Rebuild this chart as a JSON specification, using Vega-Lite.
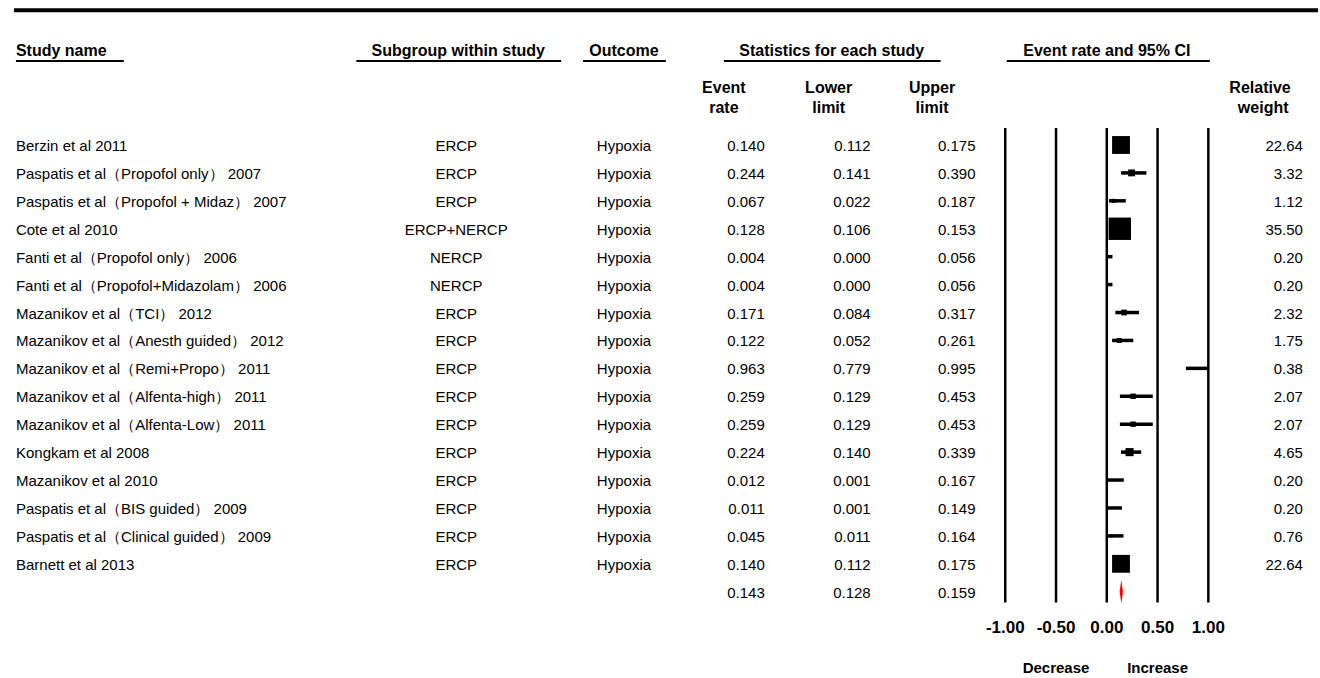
{
  "$schema": "https://vega.github.io/schema/vega-lite/v6.json",
  "width": 1320,
  "height": 678,
  "padding": 0,
  "autosize": {"type": "fit", "contains": "padding"},
  "background": "white",
  "config": {"view": {"stroke": null}, "text": {"font": "Liberation Sans", "color": "black"}},
  "datasets": {
    "studies": [
      {"kind": "study", "study": "Berzin et al 2011", "subgroup": "ERCP", "outcome": "Hypoxia", "rate": 0.140, "lower": 0.112, "upper": 0.175, "weight": 22.64},
      {"kind": "study", "study": "Paspatis et al（Propofol only） 2007", "subgroup": "ERCP", "outcome": "Hypoxia", "rate": 0.244, "lower": 0.141, "upper": 0.390, "weight": 3.32},
      {"kind": "study", "study": "Paspatis et al（Propofol + Midaz） 2007", "subgroup": "ERCP", "outcome": "Hypoxia", "rate": 0.067, "lower": 0.022, "upper": 0.187, "weight": 1.12},
      {"kind": "study", "study": "Cote et al 2010", "subgroup": "ERCP+NERCP", "outcome": "Hypoxia", "rate": 0.128, "lower": 0.106, "upper": 0.153, "weight": 35.50},
      {"kind": "study", "study": "Fanti et al（Propofol only） 2006", "subgroup": "NERCP", "outcome": "Hypoxia", "rate": 0.004, "lower": 0.000, "upper": 0.056, "weight": 0.20},
      {"kind": "study", "study": "Fanti et al（Propofol+Midazolam） 2006", "subgroup": "NERCP", "outcome": "Hypoxia", "rate": 0.004, "lower": 0.000, "upper": 0.056, "weight": 0.20},
      {"kind": "study", "study": "Mazanikov et al（TCI） 2012", "subgroup": "ERCP", "outcome": "Hypoxia", "rate": 0.171, "lower": 0.084, "upper": 0.317, "weight": 2.32},
      {"kind": "study", "study": "Mazanikov et al（Anesth guided） 2012", "subgroup": "ERCP", "outcome": "Hypoxia", "rate": 0.122, "lower": 0.052, "upper": 0.261, "weight": 1.75},
      {"kind": "study", "study": "Mazanikov et al（Remi+Propo） 2011", "subgroup": "ERCP", "outcome": "Hypoxia", "rate": 0.963, "lower": 0.779, "upper": 0.995, "weight": 0.38},
      {"kind": "study", "study": "Mazanikov et al（Alfenta-high） 2011", "subgroup": "ERCP", "outcome": "Hypoxia", "rate": 0.259, "lower": 0.129, "upper": 0.453, "weight": 2.07},
      {"kind": "study", "study": "Mazanikov et al（Alfenta-Low） 2011", "subgroup": "ERCP", "outcome": "Hypoxia", "rate": 0.259, "lower": 0.129, "upper": 0.453, "weight": 2.07},
      {"kind": "study", "study": "Kongkam et al 2008", "subgroup": "ERCP", "outcome": "Hypoxia", "rate": 0.224, "lower": 0.140, "upper": 0.339, "weight": 4.65},
      {"kind": "study", "study": "Mazanikov et al 2010", "subgroup": "ERCP", "outcome": "Hypoxia", "rate": 0.012, "lower": 0.001, "upper": 0.167, "weight": 0.20},
      {"kind": "study", "study": "Paspatis et al（BIS guided） 2009", "subgroup": "ERCP", "outcome": "Hypoxia", "rate": 0.011, "lower": 0.001, "upper": 0.149, "weight": 0.20},
      {"kind": "study", "study": "Paspatis et al（Clinical guided） 2009", "subgroup": "ERCP", "outcome": "Hypoxia", "rate": 0.045, "lower": 0.011, "upper": 0.164, "weight": 0.76},
      {"kind": "study", "study": "Barnett et al 2013", "subgroup": "ERCP", "outcome": "Hypoxia", "rate": 0.140, "lower": 0.112, "upper": 0.175, "weight": 22.64},
      {"kind": "summary", "study": "", "subgroup": "", "outcome": "", "rate": 0.143, "lower": 0.128, "upper": 0.159, "weight": null}
    ],
    "ticks": [
      {"tick": -1, "label": "-1.00"},
      {"tick": -0.5, "label": "-0.50"},
      {"tick": 0, "label": "0.00"},
      {"tick": 0.5, "label": "0.50"},
      {"tick": 1, "label": "1.00"}
    ]
  },
  "layer": [
    {
      "data": {"name": "studies"},
      "transform": [{"window": [{"op": "row_number", "as": "row"}]}],
      "layer": [
        {
          "mark": {"type": "text", "align": "left", "baseline": "middle", "fontSize": 15, "dy": 1},
          "encoding": {
            "x": {"datum": -10.743, "type": "quantitative", "scale": {"domain": [-10.9, 2.08], "nice": false, "zero": false}, "axis": null},
            "y": {"field": "row", "type": "quantitative", "scale": {"domain": [-4.193, 20.09], "reverse": true, "nice": false, "zero": false}, "axis": null},
            "text": {"field": "study"}
          }
        },
        {
          "mark": {"type": "text", "align": "center", "baseline": "middle", "fontSize": 15, "dy": 1},
          "encoding": {
            "x": {"datum": -6.407, "type": "quantitative", "scale": {"domain": [-10.9, 2.08], "nice": false, "zero": false}, "axis": null},
            "y": {"field": "row", "type": "quantitative", "scale": {"domain": [-4.193, 20.09], "reverse": true, "nice": false, "zero": false}, "axis": null},
            "text": {"field": "subgroup"}
          }
        },
        {
          "mark": {"type": "text", "align": "center", "baseline": "middle", "fontSize": 15, "dy": 1},
          "encoding": {
            "x": {"datum": -4.755, "type": "quantitative", "scale": {"domain": [-10.9, 2.08], "nice": false, "zero": false}, "axis": null},
            "y": {"field": "row", "type": "quantitative", "scale": {"domain": [-4.193, 20.09], "reverse": true, "nice": false, "zero": false}, "axis": null},
            "text": {"field": "outcome"}
          }
        },
        {
          "mark": {"type": "text", "align": "right", "baseline": "middle", "fontSize": 15, "dy": 1},
          "encoding": {
            "x": {"datum": -3.368, "type": "quantitative", "scale": {"domain": [-10.9, 2.08], "nice": false, "zero": false}, "axis": null},
            "y": {"field": "row", "type": "quantitative", "scale": {"domain": [-4.193, 20.09], "reverse": true, "nice": false, "zero": false}, "axis": null},
            "text": {"field": "rate", "type": "quantitative", "format": ".3f"}
          }
        },
        {
          "mark": {"type": "text", "align": "right", "baseline": "middle", "fontSize": 15, "dy": 1},
          "encoding": {
            "x": {"datum": -2.325, "type": "quantitative", "scale": {"domain": [-10.9, 2.08], "nice": false, "zero": false}, "axis": null},
            "y": {"field": "row", "type": "quantitative", "scale": {"domain": [-4.193, 20.09], "reverse": true, "nice": false, "zero": false}, "axis": null},
            "text": {"field": "lower", "type": "quantitative", "format": ".3f"}
          }
        },
        {
          "mark": {"type": "text", "align": "right", "baseline": "middle", "fontSize": 15, "dy": 1},
          "encoding": {
            "x": {"datum": -1.293, "type": "quantitative", "scale": {"domain": [-10.9, 2.08], "nice": false, "zero": false}, "axis": null},
            "y": {"field": "row", "type": "quantitative", "scale": {"domain": [-4.193, 20.09], "reverse": true, "nice": false, "zero": false}, "axis": null},
            "text": {"field": "upper", "type": "quantitative", "format": ".3f"}
          }
        },
        {
          "transform": [{"filter": "datum.kind == 'study'"}],
          "mark": {"type": "text", "align": "right", "baseline": "middle", "fontSize": 15, "dy": 1},
          "encoding": {
            "x": {"datum": 1.932, "type": "quantitative", "scale": {"domain": [-10.9, 2.08], "nice": false, "zero": false}, "axis": null},
            "y": {"field": "row", "type": "quantitative", "scale": {"domain": [-4.193, 20.09], "reverse": true, "nice": false, "zero": false}, "axis": null},
            "text": {"field": "weight", "type": "quantitative", "format": ".2f"}
          }
        },
        {
          "transform": [{"filter": "datum.kind == 'study'"}],
          "mark": {"type": "rule", "strokeWidth": 3.5, "color": "black"},
          "encoding": {
            "x": {"field": "lower", "type": "quantitative", "scale": {"domain": [-10.9, 2.08], "nice": false, "zero": false}, "axis": null},
            "x2": {"field": "upper"},
            "y": {"field": "row", "type": "quantitative", "scale": {"domain": [-4.193, 20.09], "reverse": true, "nice": false, "zero": false}, "axis": null}
          }
        },
        {
          "transform": [{"filter": "datum.kind == 'study'"}],
          "mark": {"type": "point", "shape": "square", "filled": true, "color": "black", "opacity": 1},
          "encoding": {
            "x": {"field": "rate", "type": "quantitative", "scale": {"domain": [-10.9, 2.08], "nice": false, "zero": false}, "axis": null},
            "y": {"field": "row", "type": "quantitative", "scale": {"domain": [-4.193, 20.09], "reverse": true, "nice": false, "zero": false}, "axis": null},
            "size": {"field": "weight", "type": "quantitative", "scale": {"type": "linear", "domain": [0, 35.5], "range": [0, 500]}, "legend": null}
          }
        },
        {
          "transform": [{"filter": "datum.kind == 'summary'"}],
          "mark": {"type": "point", "shape": "M0,-1L0.14,0L0,1L-0.14,0Z", "filled": true, "color": "#ff0000", "opacity": 1, "size": 576},
          "encoding": {
            "x": {"field": "rate", "type": "quantitative", "scale": {"domain": [-10.9, 2.08], "nice": false, "zero": false}, "axis": null},
            "y": {"field": "row", "type": "quantitative", "scale": {"domain": [-4.193, 20.09], "reverse": true, "nice": false, "zero": false}, "axis": null}
          }
        }
      ]
    },
    {
      "data": {"name": "ticks"},
      "layer": [
        {
          "mark": {"type": "rule", "strokeWidth": 2.5, "color": "black"},
          "encoding": {
            "x": {"field": "tick", "type": "quantitative", "scale": {"domain": [-10.9, 2.08], "nice": false, "zero": false}, "axis": null},
            "y": {"datum": 0.391, "type": "quantitative", "scale": {"domain": [-4.193, 20.09], "reverse": true, "nice": false, "zero": false}, "axis": null},
            "y2": {"datum": 17.386}
          }
        },
        {
          "mark": {"type": "text", "align": "center", "baseline": "alphabetic", "fontSize": 17, "fontWeight": "bold"},
          "encoding": {
            "x": {"field": "tick", "type": "quantitative", "scale": {"domain": [-10.9, 2.08], "nice": false, "zero": false}, "axis": null},
            "y": {"datum": 18.49, "type": "quantitative", "scale": {"domain": [-4.193, 20.09], "reverse": true, "nice": false, "zero": false}, "axis": null},
            "text": {"field": "label"}
          }
        }
      ]
    },
    {
      "data": {"values": [{}]},
      "layer": [
        {
          "mark": {"type": "rule", "strokeWidth": 4, "color": "black"},
          "encoding": {
            "x": {"datum": -10.762, "type": "quantitative", "scale": {"domain": [-10.9, 2.08], "nice": false, "zero": false}, "axis": null},
            "x2": {"datum": 2.08},
            "y": {"datum": -3.824, "type": "quantitative", "scale": {"domain": [-4.193, 20.09], "reverse": true, "nice": false, "zero": false}, "axis": null}
          }
        },
        {
          "mark": {"type": "text", "text": "Study name", "align": "left", "baseline": "alphabetic", "fontSize": 16, "fontWeight": "bold"},
          "encoding": {
            "x": {"datum": -10.743, "type": "quantitative", "scale": {"domain": [-10.9, 2.08], "nice": false, "zero": false}, "axis": null},
            "y": {"datum": -2.17, "type": "quantitative", "scale": {"domain": [-4.193, 20.09], "reverse": true, "nice": false, "zero": false}, "axis": null}
          }
        },
        {
          "mark": {"type": "text", "text": "Subgroup within study", "align": "center", "baseline": "alphabetic", "fontSize": 16, "fontWeight": "bold"},
          "encoding": {
            "x": {"datum": -6.387, "type": "quantitative", "scale": {"domain": [-10.9, 2.08], "nice": false, "zero": false}, "axis": null},
            "y": {"datum": -2.17, "type": "quantitative", "scale": {"domain": [-4.193, 20.09], "reverse": true, "nice": false, "zero": false}, "axis": null}
          }
        },
        {
          "mark": {"type": "text", "text": "Outcome", "align": "center", "baseline": "alphabetic", "fontSize": 16, "fontWeight": "bold"},
          "encoding": {
            "x": {"datum": -4.755, "type": "quantitative", "scale": {"domain": [-10.9, 2.08], "nice": false, "zero": false}, "axis": null},
            "y": {"datum": -2.17, "type": "quantitative", "scale": {"domain": [-4.193, 20.09], "reverse": true, "nice": false, "zero": false}, "axis": null}
          }
        },
        {
          "mark": {"type": "text", "text": "Statistics for each study", "align": "center", "baseline": "alphabetic", "fontSize": 16, "fontWeight": "bold"},
          "encoding": {
            "x": {"datum": -2.709, "type": "quantitative", "scale": {"domain": [-10.9, 2.08], "nice": false, "zero": false}, "axis": null},
            "y": {"datum": -2.17, "type": "quantitative", "scale": {"domain": [-4.193, 20.09], "reverse": true, "nice": false, "zero": false}, "axis": null}
          }
        },
        {
          "mark": {"type": "text", "text": "Event rate and 95% CI", "align": "center", "baseline": "alphabetic", "fontSize": 16, "fontWeight": "bold"},
          "encoding": {
            "x": {"datum": 0, "type": "quantitative", "scale": {"domain": [-10.9, 2.08], "nice": false, "zero": false}, "axis": null},
            "y": {"datum": -2.17, "type": "quantitative", "scale": {"domain": [-4.193, 20.09], "reverse": true, "nice": false, "zero": false}, "axis": null}
          }
        },
        {
          "mark": {"type": "rule", "strokeWidth": 2, "color": "black"},
          "encoding": {
            "x": {"datum": -10.743, "type": "quantitative", "scale": {"domain": [-10.9, 2.08], "nice": false, "zero": false}, "axis": null},
            "x2": {"datum": -9.681},
            "y": {"datum": -2.009, "type": "quantitative", "scale": {"domain": [-4.193, 20.09], "reverse": true, "nice": false, "zero": false}, "axis": null}
          }
        },
        {
          "mark": {"type": "rule", "strokeWidth": 2, "color": "black"},
          "encoding": {
            "x": {"datum": -7.39, "type": "quantitative", "scale": {"domain": [-10.9, 2.08], "nice": false, "zero": false}, "axis": null},
            "x2": {"datum": -5.374},
            "y": {"datum": -2.009, "type": "quantitative", "scale": {"domain": [-4.193, 20.09], "reverse": true, "nice": false, "zero": false}, "axis": null}
          }
        },
        {
          "mark": {"type": "rule", "strokeWidth": 2, "color": "black"},
          "encoding": {
            "x": {"datum": -5.158, "type": "quantitative", "scale": {"domain": [-10.9, 2.08], "nice": false, "zero": false}, "axis": null},
            "x2": {"datum": -4.342},
            "y": {"datum": -2.009, "type": "quantitative", "scale": {"domain": [-4.193, 20.09], "reverse": true, "nice": false, "zero": false}, "axis": null}
          }
        },
        {
          "mark": {"type": "rule", "strokeWidth": 2, "color": "black"},
          "encoding": {
            "x": {"datum": -3.771, "type": "quantitative", "scale": {"domain": [-10.9, 2.08], "nice": false, "zero": false}, "axis": null},
            "x2": {"datum": -1.637},
            "y": {"datum": -2.009, "type": "quantitative", "scale": {"domain": [-4.193, 20.09], "reverse": true, "nice": false, "zero": false}, "axis": null}
          }
        },
        {
          "mark": {"type": "rule", "strokeWidth": 2, "color": "black"},
          "encoding": {
            "x": {"datum": -0.985, "type": "quantitative", "scale": {"domain": [-10.9, 2.08], "nice": false, "zero": false}, "axis": null},
            "x2": {"datum": 1.015},
            "y": {"datum": -2.009, "type": "quantitative", "scale": {"domain": [-4.193, 20.09], "reverse": true, "nice": false, "zero": false}, "axis": null}
          }
        },
        {
          "mark": {"type": "text", "text": "Event", "align": "center", "baseline": "alphabetic", "fontSize": 16, "fontWeight": "bold"},
          "encoding": {
            "x": {"datum": -3.771, "type": "quantitative", "scale": {"domain": [-10.9, 2.08], "nice": false, "zero": false}, "axis": null},
            "y": {"datum": -0.852, "type": "quantitative", "scale": {"domain": [-4.193, 20.09], "reverse": true, "nice": false, "zero": false}, "axis": null}
          }
        },
        {
          "mark": {"type": "text", "text": "rate", "align": "center", "baseline": "alphabetic", "fontSize": 16, "fontWeight": "bold"},
          "encoding": {
            "x": {"datum": -3.771, "type": "quantitative", "scale": {"domain": [-10.9, 2.08], "nice": false, "zero": false}, "axis": null},
            "y": {"datum": -0.135, "type": "quantitative", "scale": {"domain": [-4.193, 20.09], "reverse": true, "nice": false, "zero": false}, "axis": null}
          }
        },
        {
          "mark": {"type": "text", "text": "Lower", "align": "center", "baseline": "alphabetic", "fontSize": 16, "fontWeight": "bold"},
          "encoding": {
            "x": {"datum": -2.739, "type": "quantitative", "scale": {"domain": [-10.9, 2.08], "nice": false, "zero": false}, "axis": null},
            "y": {"datum": -0.852, "type": "quantitative", "scale": {"domain": [-4.193, 20.09], "reverse": true, "nice": false, "zero": false}, "axis": null}
          }
        },
        {
          "mark": {"type": "text", "text": "limit", "align": "center", "baseline": "alphabetic", "fontSize": 16, "fontWeight": "bold"},
          "encoding": {
            "x": {"datum": -2.739, "type": "quantitative", "scale": {"domain": [-10.9, 2.08], "nice": false, "zero": false}, "axis": null},
            "y": {"datum": -0.135, "type": "quantitative", "scale": {"domain": [-4.193, 20.09], "reverse": true, "nice": false, "zero": false}, "axis": null}
          }
        },
        {
          "mark": {"type": "text", "text": "Upper", "align": "center", "baseline": "alphabetic", "fontSize": 16, "fontWeight": "bold"},
          "encoding": {
            "x": {"datum": -1.721, "type": "quantitative", "scale": {"domain": [-10.9, 2.08], "nice": false, "zero": false}, "axis": null},
            "y": {"datum": -0.852, "type": "quantitative", "scale": {"domain": [-4.193, 20.09], "reverse": true, "nice": false, "zero": false}, "axis": null}
          }
        },
        {
          "mark": {"type": "text", "text": "limit", "align": "center", "baseline": "alphabetic", "fontSize": 16, "fontWeight": "bold"},
          "encoding": {
            "x": {"datum": -1.721, "type": "quantitative", "scale": {"domain": [-10.9, 2.08], "nice": false, "zero": false}, "axis": null},
            "y": {"datum": -0.135, "type": "quantitative", "scale": {"domain": [-4.193, 20.09], "reverse": true, "nice": false, "zero": false}, "axis": null}
          }
        },
        {
          "mark": {"type": "text", "text": "Relative", "align": "center", "baseline": "alphabetic", "fontSize": 16, "fontWeight": "bold"},
          "encoding": {
            "x": {"datum": 1.509, "type": "quantitative", "scale": {"domain": [-10.9, 2.08], "nice": false, "zero": false}, "axis": null},
            "y": {"datum": -0.852, "type": "quantitative", "scale": {"domain": [-4.193, 20.09], "reverse": true, "nice": false, "zero": false}, "axis": null}
          }
        },
        {
          "mark": {"type": "text", "text": "weight", "align": "center", "baseline": "alphabetic", "fontSize": 16, "fontWeight": "bold"},
          "encoding": {
            "x": {"datum": 1.54, "type": "quantitative", "scale": {"domain": [-10.9, 2.08], "nice": false, "zero": false}, "axis": null},
            "y": {"datum": -0.135, "type": "quantitative", "scale": {"domain": [-4.193, 20.09], "reverse": true, "nice": false, "zero": false}, "axis": null}
          }
        },
        {
          "mark": {"type": "text", "text": "Decrease", "align": "center", "baseline": "alphabetic", "fontSize": 15, "fontWeight": "bold"},
          "encoding": {
            "x": {"datum": -0.5, "type": "quantitative", "scale": {"domain": [-10.9, 2.08], "nice": false, "zero": false}, "axis": null},
            "y": {"datum": 19.92, "type": "quantitative", "scale": {"domain": [-4.193, 20.09], "reverse": true, "nice": false, "zero": false}, "axis": null}
          }
        },
        {
          "mark": {"type": "text", "text": "Increase", "align": "center", "baseline": "alphabetic", "fontSize": 15, "fontWeight": "bold"},
          "encoding": {
            "x": {"datum": 0.5, "type": "quantitative", "scale": {"domain": [-10.9, 2.08], "nice": false, "zero": false}, "axis": null},
            "y": {"datum": 19.92, "type": "quantitative", "scale": {"domain": [-4.193, 20.09], "reverse": true, "nice": false, "zero": false}, "axis": null}
          }
        }
      ]
    }
  ]
}
